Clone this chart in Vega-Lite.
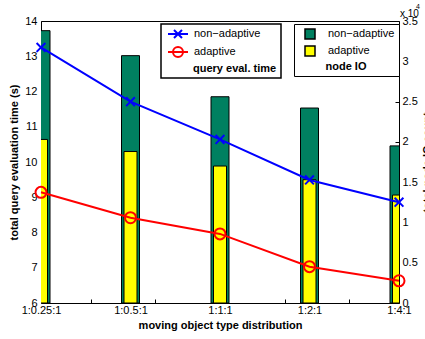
{
  "$schema": "https://vega.github.io/schema/vega-lite/v6.json",
  "width": 358,
  "height": 282,
  "autosize": {"type": "none"},
  "padding": {"left": 41, "top": 21, "right": 26, "bottom": 36},
  "background": "white",
  "config": {
    "font": "Liberation Sans",
    "view": {"stroke": "black", "strokeWidth": 1},
    "axis": {
      "labelFont": "Liberation Sans", "labelFontSize": 11, "labelColor": "black",
      "titleFont": "Liberation Sans", "titleFontSize": 11, "titleFontWeight": "bold", "titleColor": "black",
      "grid": false, "domain": false, "tickColor": "black", "tickWidth": 1,
      "labelOverlap": false, "labelFlush": false, "labelBound": false
    }
  },
  "datasets": {
    "io": [
      {"dist": "1:0.25:1", "series": "non-adaptive", "io": 33800},
      {"dist": "1:0.5:1", "series": "non-adaptive", "io": 30700},
      {"dist": "1:1:1", "series": "non-adaptive", "io": 25600},
      {"dist": "1:2:1", "series": "non-adaptive", "io": 24200},
      {"dist": "1:4:1", "series": "non-adaptive", "io": 19500},
      {"dist": "1:0.25:1", "series": "adaptive", "io": 20300},
      {"dist": "1:0.5:1", "series": "adaptive", "io": 18800},
      {"dist": "1:1:1", "series": "adaptive", "io": 17000},
      {"dist": "1:2:1", "series": "adaptive", "io": 15300},
      {"dist": "1:4:1", "series": "adaptive", "io": 13400}
    ],
    "time": [
      {"dist": "1:0.25:1", "series": "non-adaptive", "t": 13.25},
      {"dist": "1:0.5:1", "series": "non-adaptive", "t": 11.71},
      {"dist": "1:1:1", "series": "non-adaptive", "t": 10.64},
      {"dist": "1:2:1", "series": "non-adaptive", "t": 9.49},
      {"dist": "1:4:1", "series": "non-adaptive", "t": 8.86},
      {"dist": "1:0.25:1", "series": "adaptive", "t": 9.14},
      {"dist": "1:0.5:1", "series": "adaptive", "t": 8.42},
      {"dist": "1:1:1", "series": "adaptive", "t": 7.96},
      {"dist": "1:2:1", "series": "adaptive", "t": 7.03},
      {"dist": "1:4:1", "series": "adaptive", "t": 6.63}
    ],
    "exp": [
      {"dist": "1:4:1", "io": 35000, "label": "x 10", "sup": "4"}
    ],
    "bt": [
      {"b": 1}, {"b": 2}, {"b": 3}, {"b": 4}, {"b": 5}
    ]
  },
  "layer": [
    {
      "layer": [
        {
          "layer": [
            {
              "data": {"name": "io"},
              "mark": {"type": "bar", "stroke": "black", "strokeWidth": 1, "clip": true},
              "encoding": {
                "x": {
                  "field": "dist", "type": "nominal",
                  "scale": {"type": "point", "domain": ["1:0.25:1", "1:0.5:1", "1:1:1", "1:2:1", "1:4:1"], "padding": 0},
                  "axis": {"orient": "bottom", "ticks": false, "labelAngle": 0, "labelPadding": 1, "title": "moving object type distribution", "titlePadding": 4}
                },
                "y": {
                  "field": "io", "type": "quantitative", "stack": null,
                  "scale": {"domain": [0, 35000], "nice": false, "zero": false},
                  "axis": {"orient": "right", "values": [0, 5000, 10000, 15000, 20000, 25000, 30000, 35000], "labelExpr": "datum.value / 10000", "labelOverlap": false, "tickSize": -4, "labelPadding": 7, "title": "total node IO count", "titleAngle": 270, "titlePadding": 15}
                },
                "color": {
                  "field": "series", "type": "nominal",
                  "scale": {"domain": ["non-adaptive", "adaptive"], "range": ["#008060", "#ffff00"]},
                  "legend": {
                    "orient": "none", "legendX": 253, "legendY": 3, "direction": "vertical",
                    "title": "node IO", "titleOrient": "bottom", "titleAnchor": "middle",
                    "titleFont": "Liberation Sans", "titleFontSize": 11, "titleFontWeight": "bold", "titleColor": "black", "titlePadding": 2,
                    "labelFont": "Liberation Sans", "labelFontSize": 11, "labelColor": "black",
                    "labelExpr": "datum.label == 'adaptive' ? '\u00a0\u00a0adaptive' : 'non\u2212adaptive'",
                    "symbolSize": 100, "symbolOffset": 6, "labelOffset": 12, "rowPadding": 1,
                    "padding": 4, "strokeColor": "black", "fillColor": "white",
                    "encode": {
                      "symbols": {"update": {"shape": {"value": "M-2,-0.9H2V0.9H-2Z"}, "stroke": {"value": "black"}, "strokeWidth": {"value": 1}, "opacity": {"value": 1}}},
                      "legend": {"update": {"strokeWidth": {"value": 1.5}}}
                    }
                  }
                },
                "size": {
                  "field": "series", "type": "ordinal",
                  "scale": {"domain": ["non-adaptive", "adaptive"], "range": [18, 13]},
                  "legend": null
                }
              }
            },
            {
              "data": {"name": "exp"},
              "mark": {"type": "text", "align": "left", "baseline": "alphabetic", "dx": 1, "dy": -4, "fontSize": 10, "font": "Liberation Sans", "color": "black"},
              "encoding": {
                "x": {"field": "dist", "type": "nominal"},
                "y": {"field": "io", "type": "quantitative"},
                "text": {"field": "label"}
              }
            },
            {
              "data": {"name": "exp"},
              "mark": {"type": "text", "align": "left", "baseline": "alphabetic", "dx": 17, "dy": -12, "fontSize": 7, "font": "Liberation Sans", "color": "black"},
              "encoding": {
                "x": {"field": "dist", "type": "nominal"},
                "y": {"field": "io", "type": "quantitative"},
                "text": {"field": "sup"}
              }
            }
          ]
        },
        {
          "data": {"name": "time"},
          "layer": [
            {
              "mark": {"type": "line", "strokeWidth": 2},
              "encoding": {
                "x": {"field": "dist", "type": "nominal"},
                "y": {
                  "field": "t", "type": "quantitative",
                  "scale": {"domain": [6, 14], "nice": false, "zero": false},
                  "axis": {"orient": "left", "values": [6, 7, 8, 9, 10, 11, 12, 13, 14], "tickCount": 9, "labelOverlap": false, "tickSize": -4, "labelPadding": 8, "title": "total query evaluation time (s)", "titlePadding": 5}
                },
                "color": {
                  "field": "series", "type": "nominal",
                  "scale": {"domain": ["non-adaptive", "adaptive"], "range": ["#0000ff", "#ff0000"]},
                  "legend": {
                    "orient": "none", "legendX": 120, "legendY": 3, "direction": "vertical",
                    "title": "query eval. time", "titleOrient": "bottom", "titleAnchor": "start",
                    "titleFont": "Liberation Sans", "titleFontSize": 11, "titleFontWeight": "bold", "titleColor": "black", "titlePadding": 2,
                    "labelFont": "Liberation Sans", "labelFontSize": 11, "labelColor": "black",
                    "labelExpr": "datum.label == 'adaptive' ? '\u00a0\u00a0adaptive' : 'non\u2212adaptive'",
                    "symbolSize": 100, "symbolOffset": 7, "labelOffset": 10, "rowPadding": 1,
                    "padding": 4, "strokeColor": "black", "fillColor": "white",
                    "encode": {
                      "symbols": {"update": {
                        "shape": {"signal": "datum.value == 'adaptive' ? 'M-2,0H2M-1,0A1,1,0,1,0,1,0A1,1,0,1,0,-1,0' : 'M-2,0H2M-0.8,-0.8L0.8,0.8M-0.8,0.8L0.8,-0.8'"},
                        "fill": {"value": "transparent"},
                        "stroke": {"signal": "datum.value == 'adaptive' ? '#ff0000' : '#0000ff'"},
                        "strokeWidth": {"value": 2}, "opacity": {"value": 1}
                      }},
                      "legend": {"update": {"strokeWidth": {"value": 1.5}}},
                      "title": {"update": {"dx": {"value": 28}}}
                    }
                  }
                }
              }
            },
            {
              "mark": {"type": "point", "filled": false, "strokeWidth": 2, "size": 121, "opacity": 1},
              "encoding": {
                "x": {"field": "dist", "type": "nominal"},
                "y": {
                  "field": "t", "type": "quantitative",
                  "axis": {"orient": "left", "values": [6, 7, 8, 9, 10, 11, 12, 13, 14], "tickCount": 9, "labelOverlap": false, "tickSize": -4, "labelPadding": 8, "title": "total query evaluation time (s)", "titlePadding": 5}
                },
                "stroke": {
                  "field": "series", "type": "nominal",
                  "scale": {"domain": ["non-adaptive", "adaptive"], "range": ["#0000ff", "#ff0000"]},
                  "legend": null
                },
                "shape": {
                  "field": "series", "type": "nominal",
                  "scale": {"domain": ["non-adaptive", "adaptive"], "range": ["M-0.8,-0.8L0.8,0.8M-0.8,0.8L0.8,-0.8", "M-1,0A1,1,0,1,0,1,0A1,1,0,1,0,-1,0"]},
                  "legend": null
                }
              }
            }
          ]
        }
      ],
      "resolve": {"scale": {"y": "independent", "color": "independent"}}
    },
    {
      "data": {"name": "bt"},
      "mark": {"type": "point", "opacity": 0},
      "encoding": {
        "x": {
          "field": "b", "type": "quantitative",
          "scale": {"domain": [0.231, 5.769], "nice": false, "zero": false},
          "axis": {"orient": "bottom", "values": [1, 2, 3, 4, 5], "labels": false, "tickSize": -4, "title": null}
        }
      }
    }
  ],
  "resolve": {"scale": {"x": "independent", "y": "independent", "color": "independent"}}
}
